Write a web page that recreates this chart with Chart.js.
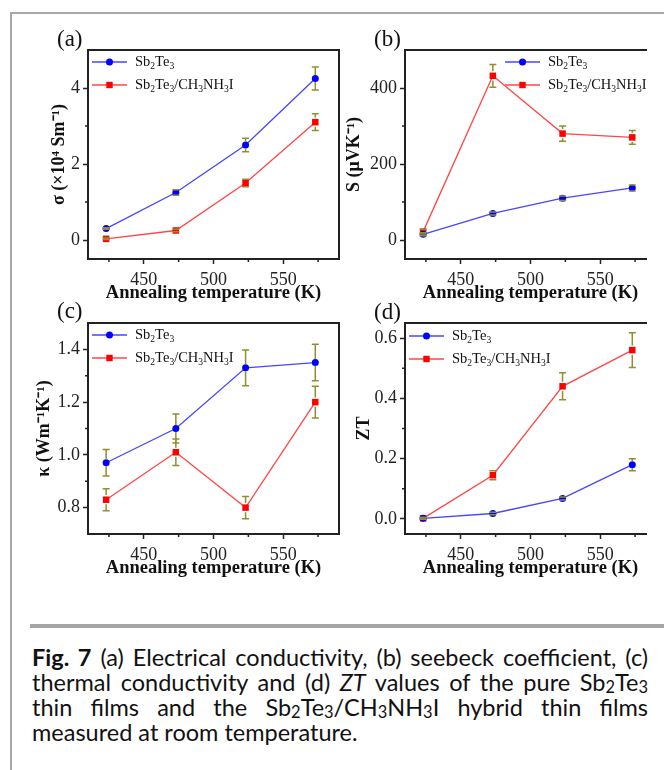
<!DOCTYPE html>
<html>
<head>
<meta charset="utf-8">
<script src="https://cdn.jsdelivr.net/npm/chart.js@4.4.1/dist/chart.umd.min.js"></script>
<style>
  body { margin: 0; background: #fff; width: 664px; height: 770px; position: relative; overflow: hidden; }
  .abs { position: absolute; }
  .wrap { position: absolute; overflow: hidden; }
  #frameTop { left: 10px; top: 12px; width: 654px; height: 0; border-top: 2px solid #a8a8a8; }
  #frameLeft { left: 10px; top: 12px; width: 0; height: 758px; border-left: 2px solid #a8a8a8; }
  #sep { left: 30px; top: 624px; width: 634px; height: 4px; background: #a6a6a6; }
  .lbl { font-family: "Liberation Serif", serif; font-size: 23px; line-height: 23px; color: #111; }
  #cap { left: 32px; top: 645px; width: 616px; font-family: Lato, "Noto Sans", sans-serif; font-size: 24px; line-height: 25px; color: #111; }
  #cap div { white-space: nowrap; }
  #cap sub { font-size: 0.7em; vertical-align: -0.12em; line-height: 0; }
</style>
</head>
<body>
<div id="frameTop" class="abs"></div>
<div id="frameLeft" class="abs"></div>

<div class="wrap" style="left:0;top:20px;width:345px;height:290px"><canvas id="chartA" width="345" height="290"></canvas></div>
<div class="wrap" style="left:340px;top:20px;width:307px;height:290px"><canvas id="chartB" width="324" height="290"></canvas></div>
<div class="wrap" style="left:0;top:293px;width:345px;height:292px"><canvas id="chartC" width="345" height="292"></canvas></div>
<div class="wrap" style="left:340px;top:293px;width:307px;height:292px"><canvas id="chartD" width="324" height="292"></canvas></div>

<div class="abs lbl" style="left:57px;top:27px">(a)</div>
<div class="abs lbl" style="left:374px;top:27px">(b)</div>
<div class="abs lbl" style="left:57px;top:299px">(c)</div>
<div class="abs lbl" style="left:374px;top:300px">(d)</div>

<div id="sep" class="abs"></div>
<div id="cap" class="abs">
  <div class="j"><span><b>Fig. 7</b> (a) Electrical conductivity, (b) seebeck coefficient, (c)</span></div>
  <div class="j"><span>thermal conductivity and (d) <i>ZT</i> values of the pure Sb<sub>2</sub>Te<sub>3</sub></span></div>
  <div class="j"><span>thin films and the Sb<sub>2</sub>Te<sub>3</sub>/CH<sub>3</sub>NH<sub>3</sub>I hybrid thin films</span></div>
  <div><span>measured at room temperature.</span></div>
</div>

<script>
const temps = [423, 473, 523, 573];
const xTicks = [450, 500, 550];
const xMinor = [425, 475, 525, 575];
const seriesNames = ['Sb_2Te_3', 'Sb_2Te_3/CH_3NH_3I'];

const sigmaPure = [0.3, 1.25, 2.5, 4.25];
const sigmaPureErr = [0.02, 0.07, 0.18, 0.3];
const sigmaHybrid = [0.03, 0.25, 1.5, 3.1];
const sigmaHybridErr = [0.02, 0.03, 0.1, 0.22];

const seebeckPure = [15, 70, 110, 137];
const seebeckPureErr = [4, 4, 6, 8];
const seebeckHybrid = [22, 432, 280, 270];
const seebeckHybridErr = [6, 30, 20, 18];

const kappaPure = [0.97, 1.10, 1.33, 1.35];
const kappaPureErr = [0.05, 0.055, 0.068, 0.069];
const kappaHybrid = [0.83, 1.01, 0.80, 1.20];
const kappaHybridErr = [0.042, 0.05, 0.042, 0.06];

const ztPure = [0.002, 0.018, 0.068, 0.18];
const ztPureErr = [0.003, 0.004, 0.005, 0.02];
const ztHybrid = [0.002, 0.145, 0.44, 0.56];
const ztHybridErr = [0.003, 0.015, 0.045, 0.058];

const sigmaTicks = [0, 2, 4], sigmaMinor = [1, 3];
const seebeckTicks = [0, 200, 400], seebeckMinor = [100, 300];
const kappaTicks = [0.8, 1.0, 1.2, 1.4], kappaMinor = [0.9, 1.1, 1.3];
const ztTicks = [0.0, 0.2, 0.4, 0.6], ztMinor = [0.1, 0.3, 0.5];

const SERIF = '"Liberation Serif", "Times New Roman", serif';
const AXIS = '#222';
const ERR = '#8f8f30';

// text with "_2" style subscripts
function drawRich(ctx, str, x, y, size) {
    const parts = str.split(/(_\d)/);
    for (const p of parts) {
        if (!p) continue;
        if (p[0] === '_') {
            ctx.font = (size * 0.66) + 'px ' + SERIF;
            ctx.fillText(p[1], x, y + size * 0.28);
            x += ctx.measureText(p[1]).width;
        } else {
            ctx.font = size + 'px ' + SERIF;
            ctx.fillText(p, x, y);
            x += ctx.measureText(p).width;
        }
    }
}

const errorBars = {
    id: 'errorBars',
    afterDatasetsDraw(chart) {
        const { ctx, scales: { x, y } } = chart;
        ctx.save();
        ctx.strokeStyle = ERR;
        ctx.lineWidth = 1.5;
        chart.data.datasets.forEach(ds => {
            const r = ds.pointRadius;
            ds.data.forEach((p, i) => {
                const e = ds.errors[i];
                const px = x.getPixelForValue(p.x);
                const mid = y.getPixelForValue(p.y);
                const top = y.getPixelForValue(p.y + e);
                const bot = y.getPixelForValue(p.y - e);
                ctx.beginPath();
                if (mid - top > r) {
                    ctx.moveTo(px, top); ctx.lineTo(px, mid - r);
                    ctx.moveTo(px, mid + r); ctx.lineTo(px, bot);
                }
                ctx.moveTo(px - 3.5, top); ctx.lineTo(px + 3.5, top);
                ctx.moveTo(px - 3.5, bot); ctx.lineTo(px + 3.5, bot);
                ctx.stroke();
            });
        });
        ctx.restore();
    }
};

const frameBox = {
    id: 'frameBox',
    afterDraw(chart, args, opts) {
        const { ctx, chartArea: a, scales: { x, y } } = chart;
        ctx.save();
        ctx.strokeStyle = AXIS;
        ctx.lineWidth = 1.5;
        ctx.beginPath();
        opts.xMinor.forEach(v => {
            const px = x.getPixelForValue(v);
            ctx.moveTo(px, a.bottom); ctx.lineTo(px, a.bottom + 3);
        });
        opts.yMinor.forEach(v => {
            const py = y.getPixelForValue(v);
            ctx.moveTo(a.left, py); ctx.lineTo(a.left - 3, py);
        });
        ctx.stroke();
        ctx.lineWidth = 2;
        ctx.strokeRect(a.left, a.top, a.right - a.left, a.bottom - a.top);
        ctx.restore();
    }
};

const innerLegend = {
    id: 'innerLegend',
    afterDraw(chart, args, opts) {
        const { ctx, chartArea: a } = chart;
        ctx.save();
        ctx.textBaseline = 'middle';
        chart.data.datasets.forEach((ds, i) => {
            const x0 = a.left + opts.x;
            const yy = a.top + opts.y + i * 23;
            ctx.strokeStyle = ds.borderColor;
            ctx.lineWidth = ds.borderWidth;
            ctx.beginPath();
            ctx.moveTo(x0, yy); ctx.lineTo(x0 + 35, yy);
            ctx.stroke();
            ctx.fillStyle = ds.pointBackgroundColor;
            if (ds.pointStyle === 'rect') {
                ctx.fillRect(x0 + 17.5 - 3.2, yy - 3.2, 6.4, 6.4);
            } else {
                ctx.beginPath();
                ctx.arc(x0 + 17.5, yy, ds.pointRadius, 0, Math.PI * 2);
                ctx.fill();
            }
            ctx.fillStyle = '#111';
            drawRich(ctx, ds.label, x0 + 43, yy, 14.5);
        });
        ctx.restore();
    }
};

function series(label, values, errors, line, mark, style) {
    return {
        label: label,
        data: temps.map((t, i) => ({ x: t, y: values[i] })),
        errors: errors,
        borderColor: line,
        borderWidth: 1.3,
        backgroundColor: mark,
        pointBackgroundColor: mark,
        pointBorderColor: mark,
        pointBorderWidth: 0,
        pointStyle: style,
        pointRadius: style === 'rect' ? 4.6 : 3.5,
        tension: 0
    };
}

function makeChart(id, cfg) {
    const ctx = document.getElementById(id).getContext('2d');
    return new Chart(ctx, {
        type: 'line',
        data: {
            datasets: [
                series(seriesNames[0], cfg.pure, cfg.pureErr, '#4646ff', '#0000ff', 'circle'),
                series(seriesNames[1], cfg.hybrid, cfg.hybridErr, '#ff4646', '#ff0000', 'rect')
            ]
        },
        plugins: [errorBars, frameBox, innerLegend],
        options: {
            responsive: false,
            devicePixelRatio: 1,
            animation: false,
            layout: { padding: { top: 30, right: cfg.padRight, bottom: 0, left: 0 } },
            plugins: {
                legend: { display: false },
                tooltip: { enabled: false },
                frameBox: { xMinor: xMinor, yMinor: cfg.yMinor },
                innerLegend: cfg.legend
            },
            scales: {
                x: {
                    type: 'linear',
                    min: 410,
                    max: 590,
                    afterBuildTicks: s => { s.ticks = xTicks.map(v => ({ value: v })); },
                    afterFit: s => { s.height = 51; },
                    grid: { drawOnChartArea: false, tickLength: 5, tickColor: AXIS, tickWidth: 1.5 },
                    border: { display: false },
                    ticks: { color: '#222', padding: 5, maxRotation: 0, font: { family: SERIF, size: 18 } },
                    title: {
                        display: true,
                        text: 'Annealing temperature (K)',
                        color: '#111',
                        padding: { top: 0, bottom: 6 },
                        font: { family: SERIF, size: 18.5, weight: 'bold' }
                    }
                },
                y: {
                    min: cfg.yMin,
                    max: cfg.yMax,
                    afterBuildTicks: s => { s.ticks = cfg.yTicks.map(v => ({ value: v })); },
                    afterFit: s => { s.width = cfg.yWidth; },
                    grid: { drawOnChartArea: false, tickLength: 5, tickColor: AXIS, tickWidth: 1.5 },
                    border: { display: false },
                    ticks: {
                        color: '#222',
                        padding: 3,
                        font: { family: SERIF, size: 18 },
                        callback: v => cfg.decimals ? v.toFixed(cfg.decimals) : String(v)
                    },
                    title: {
                        display: true,
                        text: cfg.yTitle,
                        color: '#111',
                        padding: { top: cfg.yTitlePad, bottom: 0 },
                        font: { family: SERIF, size: 18, weight: 'bold' }
                    }
                }
            }
        }
    });
}

makeChart('chartA', {
    pure: sigmaPure, pureErr: sigmaPureErr, hybrid: sigmaHybrid, hybridErr: sigmaHybridErr,
    yMin: -0.5, yMax: 5, yTicks: sigmaTicks, yMinor: sigmaMinor, decimals: 0,
    yTitle: 'σ (×10⁴ Sm⁻¹)', yWidth: 88, yTitlePad: 49, padRight: 6,
    legend: { x: 4, y: 12 }
});

makeChart('chartB', {
    pure: seebeckPure, pureErr: seebeckPureErr, hybrid: seebeckHybrid, hybridErr: seebeckHybridErr,
    yMin: -50, yMax: 500, yTicks: seebeckTicks, yMinor: seebeckMinor, decimals: 0,
    yTitle: 'S (μVK⁻¹)', yWidth: 65, yTitlePad: 4, padRight: 8,
    legend: { x: 100, y: 12 }
});

makeChart('chartC', {
    pure: kappaPure, pureErr: kappaPureErr, hybrid: kappaHybrid, hybridErr: kappaHybridErr,
    yMin: 0.7, yMax: 1.5, yTicks: kappaTicks, yMinor: kappaMinor, decimals: 1,
    yTitle: 'κ (Wm⁻¹K⁻¹)', yWidth: 88, yTitlePad: 34, padRight: 6,
    legend: { x: 4, y: 12 }
});

makeChart('chartD', {
    pure: ztPure, pureErr: ztPureErr, hybrid: ztHybrid, hybridErr: ztHybridErr,
    yMin: -0.05, yMax: 0.65, yTicks: ztTicks, yMinor: ztMinor, decimals: 1,
    yTitle: 'ZT', yWidth: 65, yTitlePad: 14, padRight: 8,
    legend: { x: 4, y: 13 }
});

// justify the caption lines by spreading the spaces
function fitCaption() {
    const cap = document.getElementById('cap');
    const width = 616;
    let size = 24;
    const spans = Array.from(cap.querySelectorAll('.j span'));
    for (;;) {
        cap.style.fontSize = size + 'px';
        spans.forEach(s => { s.style.wordSpacing = '0px'; });
        const worst = Math.max(...spans.map(s => s.getBoundingClientRect().width + 2 * (s.textContent.split(' ').length - 1)));
        if (worst <= width || size <= 16) break;
        size -= 0.5;
    }
    spans.forEach(s => {
        const gaps = s.textContent.split(' ').length - 1;
        const natural = s.getBoundingClientRect().width;
        s.style.wordSpacing = ((width - natural) / gaps) + 'px';
    });
}
if (document.fonts && document.fonts.ready) {
    document.fonts.ready.then(fitCaption);
} else {
    fitCaption();
}
fitCaption();
</script>
</body>
</html>
